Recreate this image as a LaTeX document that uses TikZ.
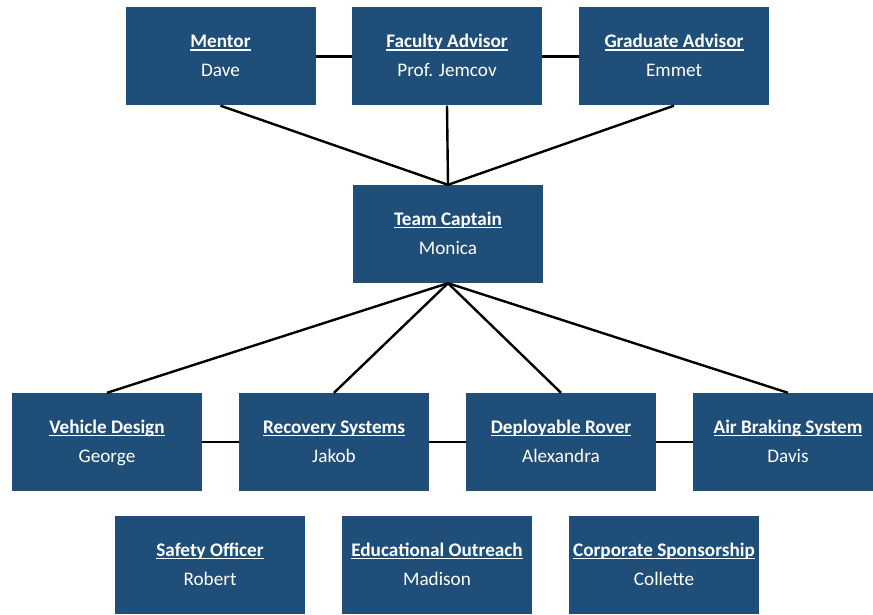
\documentclass[tikz,border=0pt]{standalone}
\usepackage{fontspec}
\setmainfont{Carlito}
\definecolor{boxblue}{RGB}{31,78,121}
\newcommand{\ulin}[1]{{\setbox0\hbox{#1}\rlap{\rule[-2.8pt]{\wd0}{1.2pt}}\box0}}
\tikzset{
  orgbox/.style={fill=boxblue, draw=none, minimum width=190pt, minimum height=98pt,
    text=white, align=center, inner sep=0pt, font=\fontsize{19.2}{29}\selectfont},
  link/.style={draw=black, line width=2.4pt}
}
\newcommand{\entry}[2]{\strut\textbf{\ulin{#1}}\\\strut#2}
\begin{document}
\begin{tikzpicture}[x=1pt,y=-1pt]
\useasboundingbox (0,0) rectangle (873,615);
\clip (0,0) rectangle (873,615);
\node[orgbox] (mentor) at (220.5,56.5) {\entry{Mentor}{Dave}};
\node[orgbox] (faculty) at (447,56.5) {\entry{Faculty Advisor}{Prof. Jemcov}};
\node[orgbox] (grad) at (674,56.5) {\entry{Graduate Advisor}{Emmet}};
\node[orgbox] (captain) at (448,234) {\entry{Team Captain}{Monica}};
\node[orgbox] (vehicle) at (107,442) {\entry{Vehicle Design}{George}};
\node[orgbox] (recovery) at (334,442) {\entry{Recovery Systems}{Jakob}};
\node[orgbox] (rover) at (561,442) {\entry{Deployable Rover}{Alexandra}};
\node[orgbox] (air) at (788,442) {\entry{Air Braking System}{Davis}};
\node[orgbox] (safety) at (210,565) {\entry{Safety Officer}{Robert}};
\node[orgbox] (outreach) at (437,565) {\entry{Educational Outreach}{Madison}};
\node[orgbox] (sponsor) at (664,565) {\entry{Corporate Sponsorship}{Collette}};
\draw[link] (mentor.east) -- (faculty.west);
\draw[link] (faculty.east) -- (grad.west);
\draw[link] (mentor.south) -- (captain.north);
\draw[link] (faculty.south) -- (captain.north);
\draw[link] (grad.south) -- (captain.north);
\draw[link] (captain.south) -- (vehicle.north);
\draw[link] (captain.south) -- (recovery.north);
\draw[link] (captain.south) -- (rover.north);
\draw[link] (captain.south) -- (air.north);
\draw[link] (vehicle.east) -- (recovery.west);
\draw[link] (recovery.east) -- (rover.west);
\draw[link] (rover.east) -- (air.west);
\end{tikzpicture}
\end{document}
